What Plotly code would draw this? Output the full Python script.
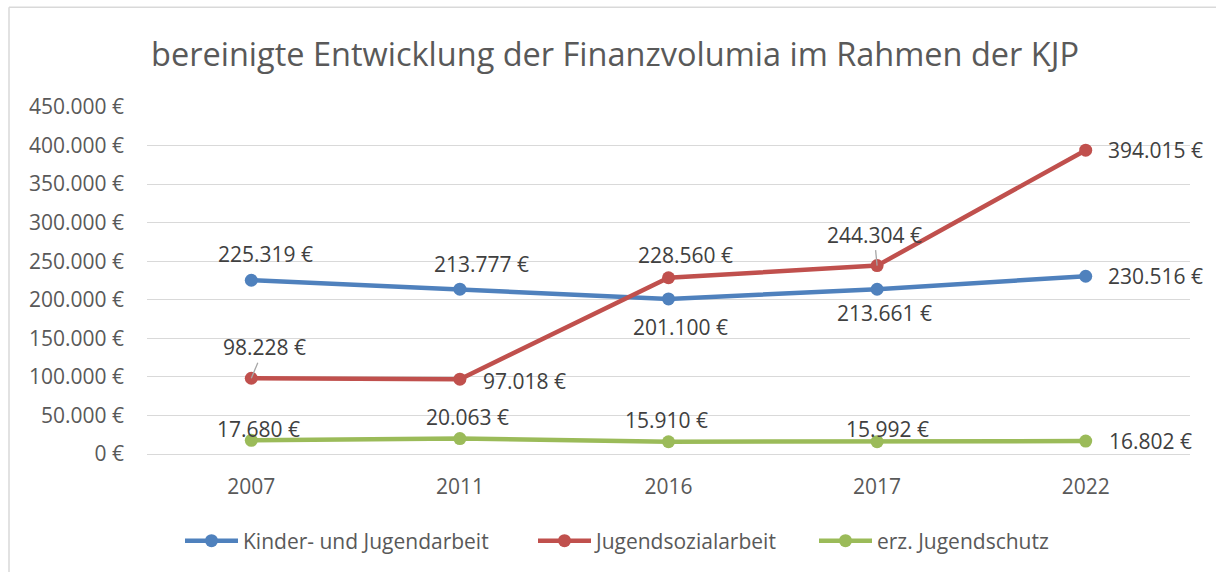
import plotly.graph_objects as go

# ---- data ----
years = ["2007", "2011", "2016", "2017", "2022"]
kinder = [225319, 213777, 201100, 213661, 230516]
sozial = [98228, 97018, 228560, 244304, 394015]
schutz = [17680, 20063, 15910, 15992, 16802]
series_names = ["Kinder- und Jugendarbeit", "Jugendsozialarbeit", "erz. Jugendschutz"]
title_text = "bereinigte Entwicklung der Finanzvolumia im Rahmen der KJP"

# ---- style ----
colors = ["#4F81BD", "#C0504D", "#9BBB59"]
FONT = "Open Sans"
# label offsets (pixels) relative to the point: (dx, dy, anchor, leader)
label_style = [
    [(14, -26, "center", False), (22, -25, "center", False), (12, 28, "center", False),
     (7, 24, "center", False), (20, 0, "left", False)],
    [(13, -31, "center", True), (21, 2, "left", False), (17, -23, "center", False),
     (-3, -31, "center", True), (20, 0, "left", False)],
    [(7, -11, "center", False), (8, -22, "center", False), (-2, -22, "center", False),
     (10, -13, "center", False), (21, 0, "left", False)],
]
legend_text_x = [243, 596, 877]   # pixel where each legend text starts
ITEMW = 53

PLOT_L, PLOT_R, PLOT_T, PLOT_B = 147, 1190, 107, 455
PW, PH = PLOT_R - PLOT_L, PLOT_B - PLOT_T


def fmt(v):
    return f"{v:,}".replace(",", ".") + " €"


fig = go.Figure()
all_series = [kinder, sozial, schutz]
legend_ids = ["legend", "legend2", "legend3"]
for name, vals, col, lid in zip(series_names, all_series, colors, legend_ids):
    fig.add_trace(go.Scatter(
        x=years, y=vals, name=name, mode="lines+markers",
        line=dict(color=col, width=4.5),
        marker=dict(color=col, size=13),
        hoverinfo="skip", legend=lid,
    ))

annotations = []
for vals, styles in zip(all_series, label_style):
    for i, (v, (dx, dy, anchor, leader)) in enumerate(zip(vals, styles)):
        base = dict(x=i, y=v, xref="x", yref="y", text=fmt(v),
                    font=dict(family=FONT, size=21, color="#404040"))
        if leader:
            annotations.append(dict(base, showarrow=True, ax=dx, ay=dy,
                                    arrowhead=0, arrowwidth=1.3,
                                    arrowcolor="#A6A6A6", standoff=0,
                                    startstandoff=0))
        else:
            annotations.append(dict(base, showarrow=False, xshift=dx, yshift=-dy,
                                    xanchor=anchor, yanchor="middle"))

legend_font = dict(family=FONT, size=21, color="#595959")
legend_layout = {}
for lid, tx in zip(legend_ids, legend_text_x):
    legend_layout[lid] = dict(
        orientation="h", x=(tx - ITEMW - 10 - PLOT_L) / PW, xanchor="left",
        y=(PLOT_B - 541) / PH, yanchor="middle", font=legend_font,
        itemwidth=ITEMW, bgcolor="rgba(0,0,0,0)", borderwidth=0)

fig.update_layout(
    width=1216, height=572,
    margin=dict(l=PLOT_L, r=1216 - PLOT_R, t=PLOT_T, b=572 - PLOT_B),
    paper_bgcolor="white", plot_bgcolor="white",
    separators=",.",
    title=dict(text=title_text, x=615 / 1216, xanchor="center",
               y=1 - 55 / 572, yanchor="middle",
               font=dict(family=FONT, size=32.5, color="#595959")),
    showlegend=True,
    xaxis=dict(type="category", range=[-0.5, 4.5], showgrid=False,
               showline=True, linecolor="#D9D9D9", linewidth=1.3,
               ticks="", ticklabelstandoff=14,
               tickfont=dict(family=FONT, size=21, color="#595959")),
    yaxis=dict(range=[0, 450000], dtick=50000, tickformat=",.0f",
               ticksuffix=" €", showgrid=True, gridcolor="#D9D9D9",
               gridwidth=1.3, zeroline=False, showline=False, ticks="",
               ticklabelstandoff=22,
               tickfont=dict(family=FONT, size=21, color="#595959")),
    annotations=annotations,
    shapes=[
        dict(type="line", xref="paper", yref="paper",
             x0=(9 - PLOT_L) / PW, x1=1.1, y0=(PLOT_B - 7) / PH, y1=(PLOT_B - 7) / PH,
             line=dict(color="#D9D9D9", width=1.5)),
        dict(type="line", xref="paper", yref="paper",
             x0=(9 - PLOT_L) / PW, x1=(9 - PLOT_L) / PW, y0=(PLOT_B - 7) / PH, y1=-0.5,
             line=dict(color="#D9D9D9", width=1.5)),
    ],
    **legend_layout,
)

fig.write_html("out.html")
